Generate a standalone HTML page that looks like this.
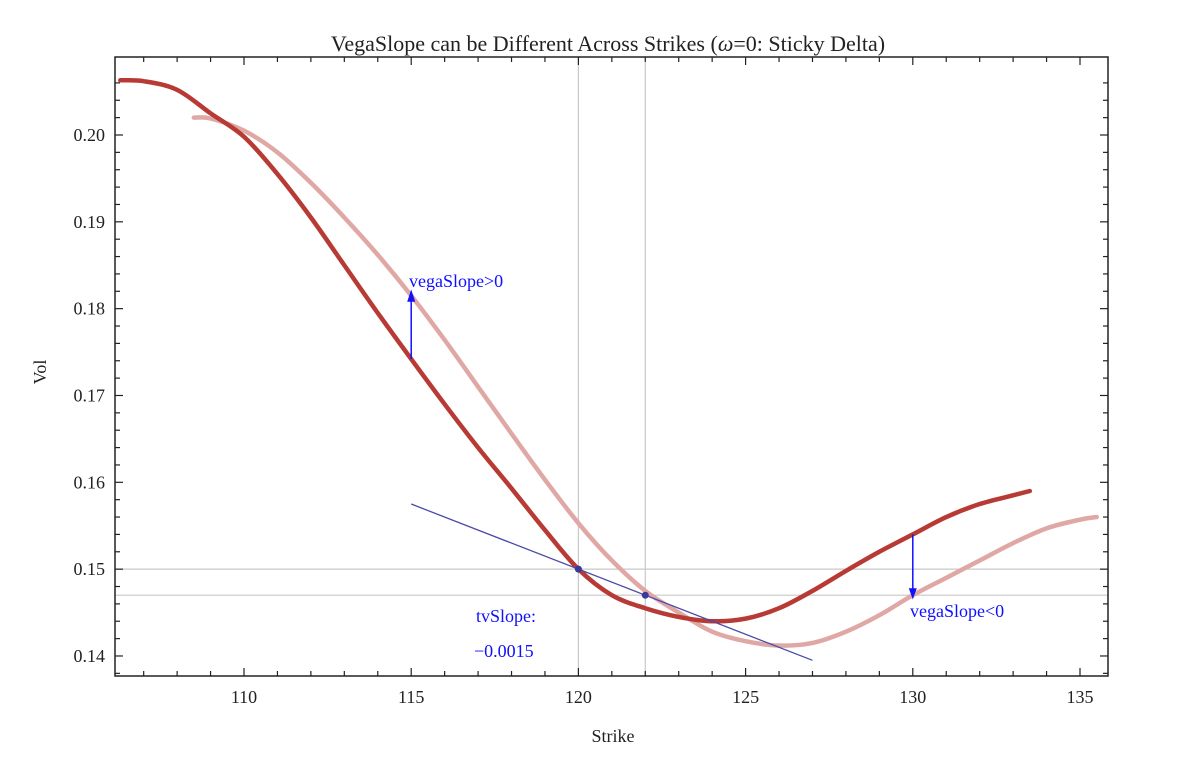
<!DOCTYPE html>
<html><head><meta charset="utf-8"><style>
body{margin:0;background:#fff}
svg{display:block;font-family:"Liberation Serif",serif}
</style></head><body>
<svg id="chart" width="1179" height="757">
<text x="608" y="51" text-anchor="middle" font-size="22" fill="#222">VegaSlope can be Different Across Strikes (<tspan font-style="italic">ω</tspan>=0: Sticky Delta)</text>
<text x="613" y="742" text-anchor="middle" font-size="18" fill="#222">Strike</text>
<text transform="translate(46,372) rotate(-90)" text-anchor="middle" font-size="18" fill="#222">Vol</text>
<g id="grid"></g><g id="axes"></g><g id="series"></g><g id="ann"></g>
</svg>
<script>
const xTicks=[110,115,120,125,130,135];
const yTicks=[0.14,0.15,0.16,0.17,0.18,0.19,0.20];
const darkX=[106.3,107,108,109,110,111,112,113,114,115,116,117,118,119,120,121,122,123,124,125,126,127,128,129,130,131,132,133,133.5];
const darkY=[0.2063,0.2062,0.2052,0.2025,0.1998,0.1955,0.1905,0.185,0.1795,0.1742,0.169,0.164,0.1593,0.1545,0.15,0.147,0.1455,0.1445,0.144,0.1443,0.1455,0.1475,0.1498,0.152,0.154,0.156,0.1575,0.1585,0.159];
const lightX=[108.5,109,110,111,112,113,114,115,116,117,118,119,120,121,122,123,124,125,126,127,128,129,130,131,132,133,134,135,135.5];
const lightY=[0.202,0.2019,0.2005,0.198,0.1945,0.1905,0.1862,0.1815,0.1764,0.171,0.1656,0.1603,0.1553,0.151,0.1475,0.145,0.1428,0.1417,0.1412,0.1415,0.1428,0.1447,0.147,0.149,0.151,0.153,0.1547,0.1557,0.156];
const tangentX=[115,127];
const tangentY=[0.1575,0.1395];
const pointsX=[120,122];
const pointsY=[0.15,0.147];
const L=115,R=1108,T=57,B=676;
const sx=v=>244+(v-110)*33.44;
const sy=v=>135+(0.20-v)*8683;
const NS='http://www.w3.org/2000/svg';
function mk(p,t,a){const e=document.createElementNS(NS,t);for(const k in a)e.setAttribute(k,a[k]);p.appendChild(e);return e;}
const g=document.getElementById('grid'),ax=document.getElementById('axes'),s=document.getElementById('series'),an=document.getElementById('ann');
pointsX.forEach((v,i)=>{
 const l=mk(g,'line',{x1:sx(v),x2:sx(v),y1:T,y2:B,stroke:'#c8c8c8','stroke-width':1.2});
 
 
 const h=mk(g,'line',{x1:L,x2:R,y1:sy(pointsY[i]),y2:sy(pointsY[i]),stroke:'#c8c8c8','stroke-width':1.2});
 
 
});
const fr=mk(ax,'rect',{x:L,y:T,width:R-L,height:B-T,fill:'none',stroke:'#222','stroke-width':1.5});


for(let v=107;v<=135;v++){const x=sx(v);if(x<L||x>R)continue;const len=v%5===0?8:5;
 mk(ax,'line',{x1:x,x2:x,y1:B,y2:B-len,stroke:'#222','stroke-width':1.2});
 mk(ax,'line',{x1:x,x2:x,y1:T,y2:T+len,stroke:'#222','stroke-width':1.2});}
for(let k=138;k<=206;k+=2){const v=k/1000,y=sy(v);if(y<T||y>B)continue;const len=k%10===0?8:5;
 mk(ax,'line',{x1:L,x2:L+len,y1:y,y2:y,stroke:'#222','stroke-width':1.2});
 mk(ax,'line',{x1:R,x2:R-len,y1:y,y2:y,stroke:'#222','stroke-width':1.2});}
xTicks.forEach(v=>{const t=mk(ax,'text',{x:sx(v),y:B+27,'text-anchor':'middle','font-size':18,fill:'#222'});t.textContent=v;
 
 });
yTicks.forEach(v=>{const t=mk(ax,'text',{x:L-10,y:sy(v)+6,'text-anchor':'end','font-size':18,fill:'#222'});t.textContent=v.toFixed(2);
 
 });
function path(xs,ys){const P=xs.map((x,i)=>[sx(x),sy(ys[i])]);let d='M'+P[0].join(',');
 for(let i=0;i<P.length-1;i++){const p0=P[Math.max(i-1,0)],p1=P[i],p2=P[i+1],p3=P[Math.min(i+2,P.length-1)];
 d+=' C'+(p1[0]+(p2[0]-p0[0])/6)+','+(p1[1]+(p2[1]-p0[1])/6)+' '+(p2[0]-(p3[0]-p1[0])/6)+','+(p2[1]-(p3[1]-p1[1])/6)+' '+p2[0]+','+p2[1];}return d;}
const lc=mk(s,'path',{d:path(lightX,lightY),fill:'none',stroke:'#e0a8a5','stroke-width':4.5,'stroke-linecap':'round','stroke-linejoin':'round'});


const dc=mk(s,'path',{d:path(darkX,darkY),fill:'none',stroke:'#b83a35','stroke-width':4.5,'stroke-linecap':'round','stroke-linejoin':'round'});


const tl=mk(s,'line',{x1:sx(tangentX[0]),y1:sy(tangentY[0]),x2:sx(tangentX[1]),y2:sy(tangentY[1]),stroke:'#4a4aa8','stroke-width':1.3});


pointsX.forEach((v,i)=>{const c=mk(s,'circle',{cx:sx(v),cy:sy(pointsY[i]),r:3.5,fill:'#3a3a9a'});
 
 });
const a1=mk(an,'line',{x1:sx(115),y1:sy(0.1742),x2:sx(115),y2:sy(0.1815),stroke:'#1010ff','stroke-width':1.5});


mk(an,'path',{d:`M${sx(115)-4},${sy(0.1808)} L${sx(115)},${sy(0.1822)} L${sx(115)+4},${sy(0.1808)} Z`,fill:'#1010ff'});
const a2=mk(an,'line',{x1:sx(130),y1:sy(0.154),x2:sx(130),y2:sy(0.1472),stroke:'#1010ff','stroke-width':1.5});


mk(an,'path',{d:`M${sx(130)-4},${sy(0.1478)} L${sx(130)},${sy(0.1465)} L${sx(130)+4},${sy(0.1478)} Z`,fill:'#1010ff'});
[['vegaSlope>0',409,287,'label-vegaslope-pos'],['vegaSlope<0',910,617,'label-vegaslope-neg'],['tvSlope:',476,622,'label-tvslope'],['\u22120.0015',474,657,'label-tvslope-value']].forEach(a=>{
 const t=mk(an,'text',{x:a[1],y:a[2],'font-size':18,fill:'#1010ff'});t.textContent=a[0];
 
 });
</script>
</body></html>
